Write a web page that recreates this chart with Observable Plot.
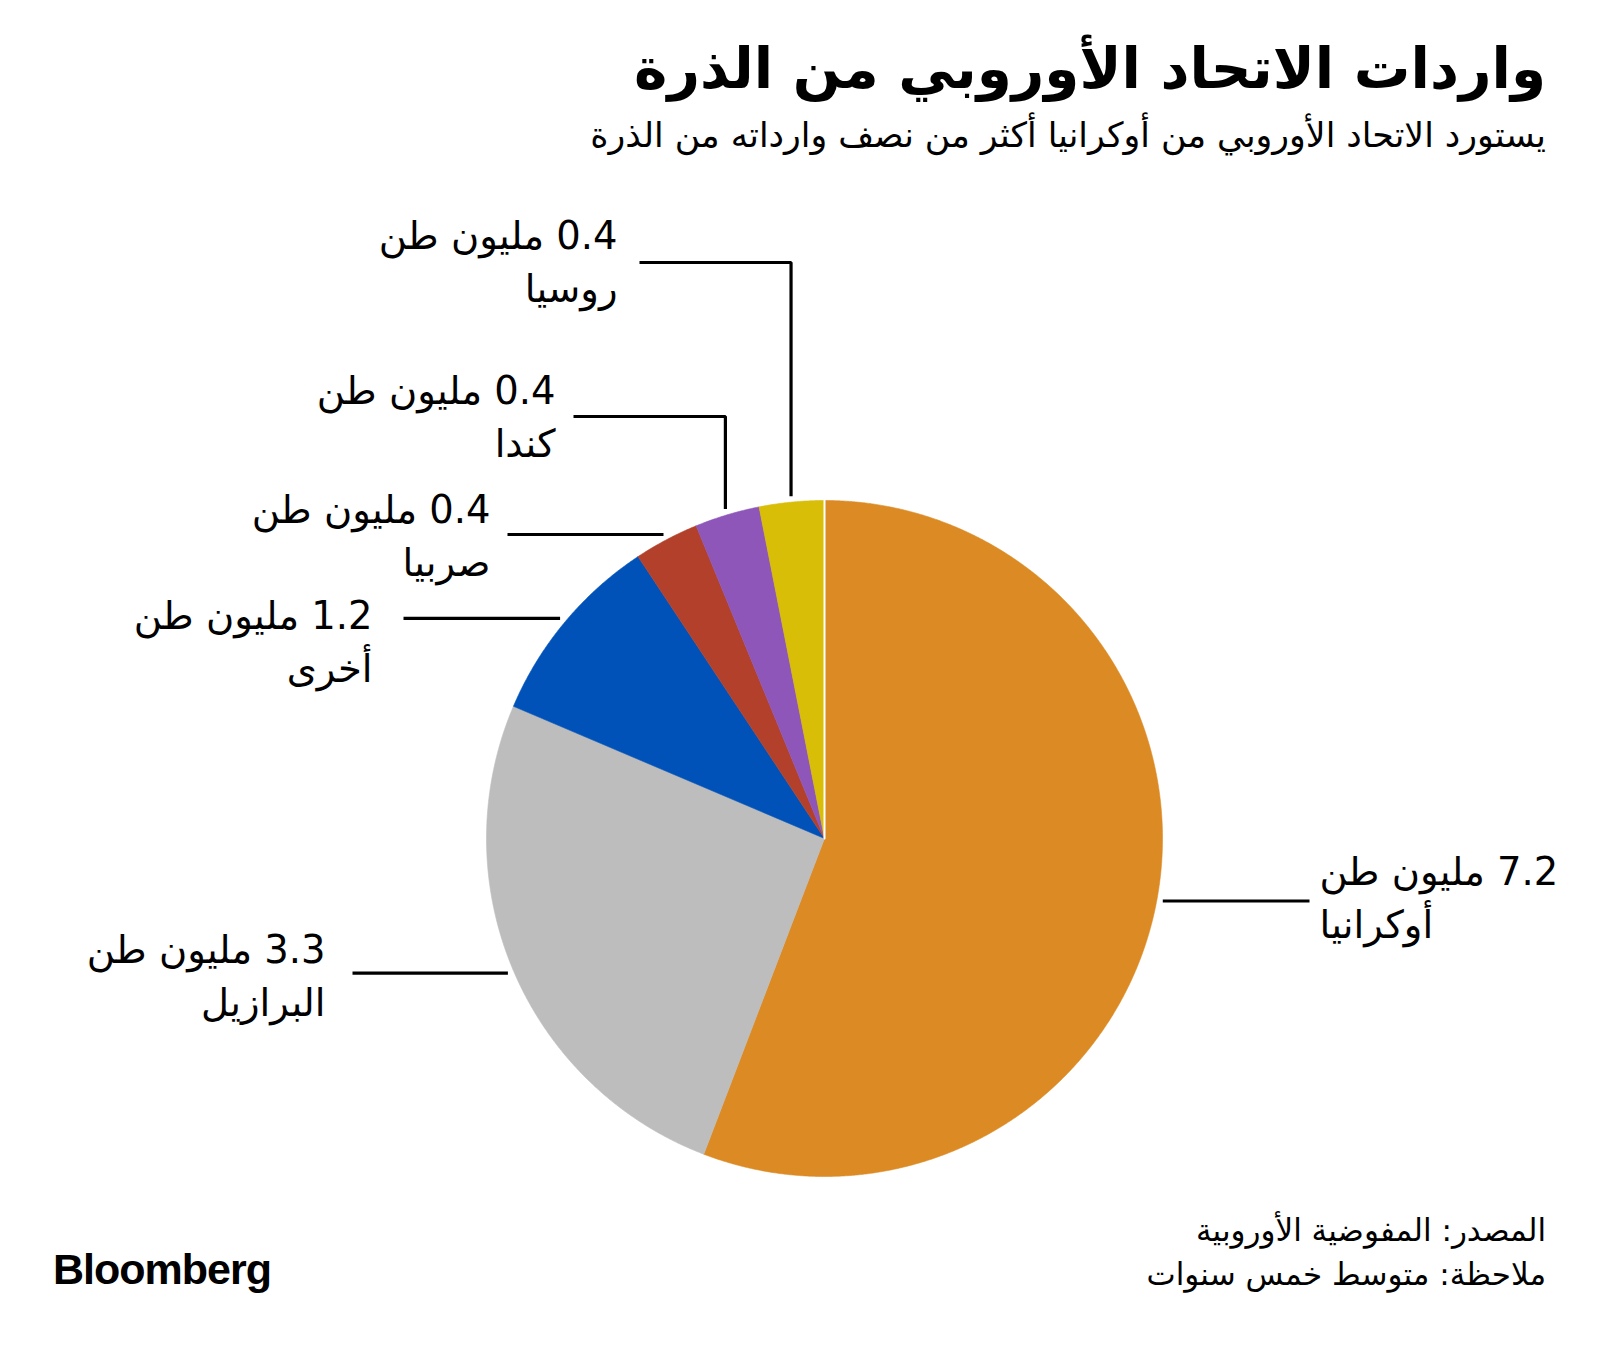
<!DOCTYPE html>
<html>
<head>
<meta charset="utf-8">
<script src="https://cdn.jsdelivr.net/npm/d3@7"></script>
<script src="https://cdn.jsdelivr.net/npm/@observablehq/plot@0.6"></script>
<style>
  body { margin: 0; background: #fff; }
  #page { position: relative; width: 1600px; height: 1350px; background: #fff; overflow: hidden; }
  .t { position: absolute; font-family: "DejaVu Sans"; color: #000; white-space: nowrap; }
  #chart { position: absolute; left: 0; top: 180px; }
</style>
</head>
<body>
<div id="page">
  <div class="t" id="title" dir="rtl"></div>
  <div class="t" id="subtitle" dir="rtl"></div>
  <div id="chart"></div>
  <div class="t" id="source" dir="rtl"></div>
  <div class="t" id="note" dir="rtl"></div>
  <div class="t" id="logo">Bloomberg</div>
</div>
<script>
// ---- data ----
const categories = ["أوكرانيا", "البرازيل", "أخرى", "صربيا", "كندا", "روسيا"];
const values = [7.2, 3.3, 1.2, 0.4, 0.4, 0.4];
const unitText = "مليون طن";

const titleText = "واردات الاتحاد الأوروبي من الذرة";
const subtitleText = "يستورد الاتحاد الأوروبي من أوكرانيا أكثر من نصف وارداته من الذرة";
const sourceText = "المصدر: المفوضية الأوروبية";
const noteText = "ملاحظة: متوسط خمس سنوات";

// ---- styles ----
const colors = ["#DB8A24", "#BDBDBD", "#0052B8", "#B2402A", "#8D56B8", "#D8BE06"];

// ---- layout (page pixels) ----
const pieCenter = {x: 824, y: 838};
const pieRadius = 338;
const leaderGap = 6;
const labelFont = 38.5;
const labelLineGap = 53;
// per category: text anchor x, first-line baseline, anchor side, leader end x, elbow y (null = straight)
const labelLayout = [
  {textX: 1319, base: 884, side: "start", endX: 1309, elbowY: null},
  {textX: 325,  base: 962, side: "end",   endX: 352,  elbowY: null},
  {textX: 372,  base: 628, side: "end",   endX: 403,  elbowY: null},
  {textX: 490,  base: 522, side: "end",   endX: 507,  elbowY: null},
  {textX: 555,  base: 403, side: "end",   endX: 573,  elbowY: 416},
  {textX: 617,  base: 248, side: "end",   endX: 639,  elbowY: 262}
];

// ---- header / footer text ----
function place(id, text, size, baseline, opts = {}) {
  const el = document.getElementById(id);
  el.textContent = text;
  const asc = opts.asc ?? 0.928, desc = opts.desc ?? 0.236;
  el.style.fontSize = size + "px";
  el.style.lineHeight = (size * (asc + desc)) + "px";
  el.style.top = (baseline - size * asc) + "px";
  if (opts.weight) el.style.fontWeight = opts.weight;
  if (opts.right != null) el.style.right = opts.right + "px";
  if (opts.left != null) el.style.left = opts.left + "px";
  if (opts.family) el.style.fontFamily = opts.family;
  if (opts.ls != null) el.style.letterSpacing = opts.ls + "px";
}
place("title", titleText, 56.5, 88, {weight: "bold", right: 54});
place("subtitle", subtitleText, 34.7, 147, {right: 54});
place("source", sourceText, 31, 1241, {right: 54});
place("note", noteText, 31, 1285, {right: 54});
place("logo", "Bloomberg", 43, 1284, {weight: "bold", left: 53, family: '"Liberation Sans"', asc: 0.905, desc: 0.212, ls: -1});

// ---- pie geometry from data ----
const data = categories.map((name, i) => ({name, value: values[i]}));
const arcs = d3.pie().value(d => d.value).sort(null)(data);
const pt = (a, r) => ({x: pieCenter.x + r * Math.sin(a), y: pieCenter.y - r * Math.cos(a)});

const wedgePts = [];
for (const a of arcs) {
  const n = Math.max(2, Math.ceil((a.endAngle - a.startAngle) / (Math.PI / 720)));
  wedgePts.push({name: a.data.name, ...pieCenter});
  for (let k = 0; k <= n; k++) {
    const ang = a.startAngle + (a.endAngle - a.startAngle) * k / n;
    wedgePts.push({name: a.data.name, ...pt(ang, pieRadius)});
  }
  wedgePts.push({name: a.data.name, ...pieCenter});
}

const seamPts = [{...pieCenter}, pt(arcs[0].startAngle, pieRadius)];

const leaderPts = [];
const leftRows = [], rightRows = [];
arcs.forEach((a, i) => {
  const L = labelLayout[i];
  const mid = (a.startAngle + a.endAngle) / 2;
  const s = pt(mid, pieRadius + leaderGap);
  const name = a.data.name;
  leaderPts.push({name, x: s.x, y: s.y});
  if (L.elbowY != null) {
    leaderPts.push({name, x: s.x, y: L.elbowY});
    leaderPts.push({name, x: L.endX, y: L.elbowY});
  } else {
    leaderPts.push({name, x: L.endX, y: s.y});
  }
  const rows = L.side === "start" ? rightRows : leftRows;
  rows.push({x: L.textX, y: L.base - 0.32 * labelFont, text: "\u202B" + a.data.value.toFixed(1) + " " + unitText + "\u202C"});
  rows.push({x: L.textX, y: L.base + labelLineGap - 0.32 * labelFont, text: "\u202B" + name + "\u202C"});
});

const chart = Plot.plot({
  width: 1600,
  height: 1020,
  margin: 0,
  x: {domain: [0, 1600], range: [0, 1600], axis: null},
  y: {domain: [180, 1200], range: [0, 1020], axis: null},
  color: {domain: categories, range: colors},
  style: {fontFamily: "DejaVu Sans", background: "#fff", color: "#000"},
  marks: [
    Plot.line(wedgePts, {x: "x", y: "y", z: "name", fill: "name", stroke: "name", strokeWidth: 0.6}),
    Plot.line(seamPts, {x: "x", y: "y", stroke: "#fff", strokeWidth: 2}),
    Plot.line(leaderPts, {x: "x", y: "y", z: "name", stroke: "#000", strokeWidth: 3.2, strokeLinejoin: "miter", strokeLinecap: "butt"}),
    Plot.text(leftRows, {x: "x", y: "y", text: "text", textAnchor: "end", fontSize: labelFont, fill: "#000"}),
    Plot.text(rightRows, {x: "x", y: "y", text: "text", textAnchor: "start", fontSize: labelFont, fill: "#000"})
  ]
});
document.getElementById("chart").appendChild(chart);
</script>
</body>
</html>
